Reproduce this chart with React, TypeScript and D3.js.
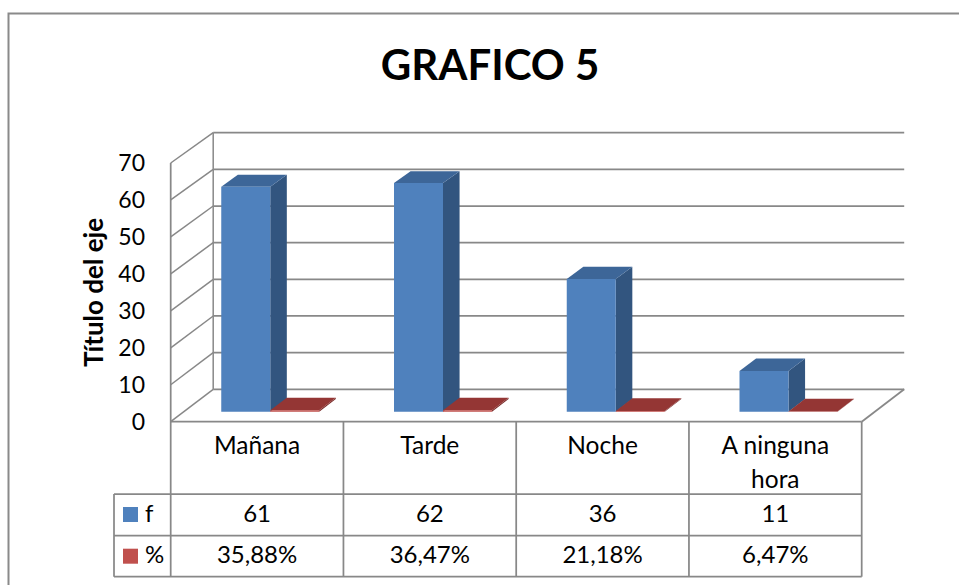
import React from "react";
import * as d3 from "d3";

const width = 959;
const height = 585;

const categories = ["Mañana", "Tarde", "Noche", "A ninguna hora"];
const seriesNames = ["f", "%"];
const fValues = [61, 62, 36, 11];
const pctValues = [0.3588, 0.3647, 0.2118, 0.0647];
const fLabels = ["61", "62", "36", "11"];
const pctLabels = ["35,88%", "36,47%", "21,18%", "6,47%"];
const yTicks = [0, 10, 20, 30, 40, 50, 60, 70];

const FONT = "Lato, 'Open Sans', sans-serif";
const GRID = "#888888";

// floor / wall geometry (front plane and back plane)
const left = 170.7;
const right = 861.7;
const DX = 42.5;
const yFront = d3.scaleLinear().domain([0, 70]).range([421.7, 163]);
const yBack = d3.scaleLinear().domain([0, 70]).range([389.3, 132.7]);

// where the bars sit in depth (0 = front, 1 = back wall)
const dNear = 0.31;
const dFar = 0.7;

const proj = (x: number, v: number, d: number): [number, number] => [
  x + d * DX,
  yFront(v) * (1 - d) + yBack(v) * d,
];

const xCat = d3.scaleBand<string>().domain(categories).range([left, right]).padding(0);
const gap = 74.75;
const xSer = d3
  .scaleBand<string>()
  .domain(seriesNames)
  .range([gap / 2, xCat.bandwidth() - gap / 2]);

const poly = d3.line<[number, number]>();

const colors: Record<string, { front: string; top: string; side: string; key: string }> = {
  f: { front: "#4F81BD", top: "#3D6698", side: "#32557F", key: "#4F81BD" },
  "%": { front: "#C0504D", top: "#943634", side: "#7A2C2A", key: "#C0504D" },
};

// crude wrap for category labels
const wrap = (s: string, max = 10) => {
  const words = s.split(" ");
  const lines: string[] = [];
  let cur = "";
  words.forEach((w) => {
    const t = cur ? cur + " " + w : w;
    if (t.length > max && cur) {
      lines.push(cur);
      cur = w;
    } else cur = t;
  });
  if (cur) lines.push(cur);
  return lines;
};

const Bar = ({ x0, x1, v, c }: { x0: number; x1: number; v: number; c: any }) => {
  const front = [proj(x0, 0, dNear), proj(x1, 0, dNear), proj(x1, v, dNear), proj(x0, v, dNear)];
  const top = [proj(x0, v, dNear), proj(x1, v, dNear), proj(x1, v, dFar), proj(x0, v, dFar)];
  const side = [proj(x1, 0, dNear), proj(x1, 0, dFar), proj(x1, v, dFar), proj(x1, v, dNear)];
  return (
    <g>
      <path d={poly(side as any) + "Z"} fill={c.side} />
      <path d={poly(top as any) + "Z"} fill={c.top} />
      <path d={poly(front as any) + "Z"} fill={c.front} />
    </g>
  );
};

export default function App() {
  const rowCat = 494;
  const rowF = 535.7;
  const rowP = 576.7;
  const tableLeft = 114;
  const colEdges = [...categories.map((c) => xCat(c)!), right];

  const series = [
    { name: "f", values: fValues },
    { name: "%", values: pctValues },
  ];

  return (
    <svg
      width={width}
      height={height}
      style={{ position: "absolute", left: 0, top: 0, background: "#fff" }}
      fontFamily={FONT}
    >
      {/* chart border */}
      <path d={`M8.5,${height + 5}V13.5H${width + 5}`} fill="none" stroke="#8a8a8a" strokeWidth={2} />

      <text x={490} y={80} textAnchor="middle" fontSize={42} fontWeight="bold" fill="#000">
        GRAFICO 5
      </text>

      {/* back wall gridlines */}
      {yTicks.map((t) => (
        <line key={"b" + t} x1={left + DX} x2={right + DX} y1={yBack(t)} y2={yBack(t)} stroke={GRID} strokeWidth={1.75} />
      ))}
      {/* side wall gridlines */}
      {yTicks.map((t) => (
        <line key={"s" + t} x1={left} x2={left + DX} y1={yFront(t)} y2={yBack(t)} stroke={GRID} strokeWidth={1.5} />
      ))}
      <line x1={left + DX} x2={left + DX} y1={yBack(70)} y2={yBack(0)} stroke={GRID} strokeWidth={1.5} />
      <line x1={left} x2={left} y1={yFront(70)} y2={rowP} stroke={GRID} strokeWidth={1.75} />
      {/* floor */}
      <line x1={right} x2={right + DX} y1={yFront(0)} y2={yBack(0)} stroke={GRID} strokeWidth={1.75} />

      {/* bars */}
      {categories.map((cat) =>
        series.map((s) => {
          const x0 = xCat(cat)! + xSer(s.name)!;
          const x1 = x0 + xSer.bandwidth();
          return <Bar key={cat + s.name} x0={x0} x1={x1} v={s.values[categories.indexOf(cat)]} c={colors[s.name]} />;
        })
      )}

      {/* y tick labels */}
      {yTicks.map((t) => (
        <text key={"t" + t} x={145} y={yFront(t)} dy="0.36em" textAnchor="end" fontSize={23} fill="#000">
          {t}
        </text>
      ))}

      <text
        transform={`translate(${103},${292.5}) rotate(-90)`}
        textAnchor="middle"
        fontSize={26}
        fontWeight="bold"
        fill="#000"
      >
        Título del eje
      </text>

      {/* data table */}
      <line x1={left} x2={right} y1={yFront(0)} y2={yFront(0)} stroke={GRID} strokeWidth={1.75} />
      {[rowCat, rowF, rowP].map((y) => (
        <line key={"r" + y} x1={tableLeft} x2={right} y1={y} y2={y} stroke={GRID} strokeWidth={1.75} />
      ))}
      <line x1={tableLeft} x2={tableLeft} y1={rowCat} y2={rowP} stroke={GRID} strokeWidth={1.75} />
      {colEdges.slice(1).map((x) => (
        <line key={"c" + x} x1={x} x2={x} y1={yFront(0)} y2={rowP} stroke={GRID} strokeWidth={1.75} />
      ))}

      {categories.map((cat, i) => {
        const cx = xCat(cat)! + xCat.bandwidth() / 2;
        return (
          <g key={"lab" + cat} fontSize={24.5} fill="#000" textAnchor="middle">
            {wrap(cat).map((ln, j) => (
              <text key={j} x={cx} y={454.3 + j * 33.4}>
                {ln}
              </text>
            ))}
            <text x={cx} y={521.7} fontSize={24}>{fLabels[i]}</text>
            <text x={cx} y={563} fontSize={24}>{pctLabels[i]}</text>
          </g>
        );
      })}

      {/* legend keys */}
      {seriesNames.map((s, i) => {
        const y = i === 0 ? rowCat : rowF;
        return (
          <g key={"k" + s}>
            <rect x={123} y={y + 13} width={15} height={15} fill={colors[s].key} />
            <text x={145} y={i === 0 ? 521.7 : 563} fontSize={24} fill="#000">
              {s}
            </text>
          </g>
        );
      })}
    </svg>
  );
}
